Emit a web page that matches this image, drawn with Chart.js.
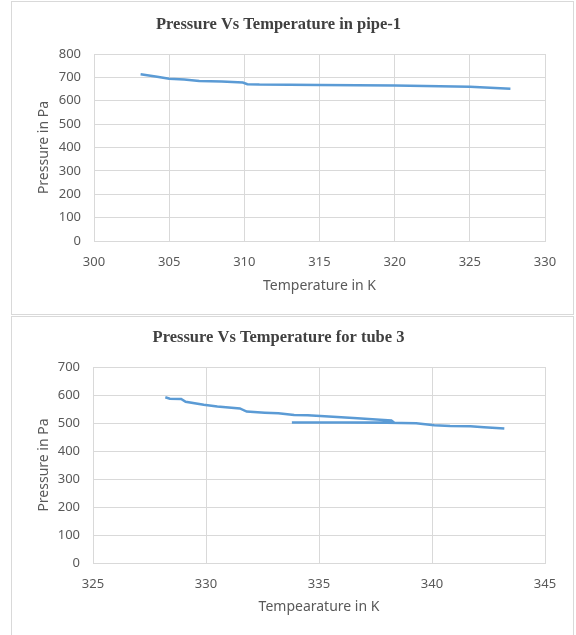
<!DOCTYPE html>
<html>
<head>
<meta charset="utf-8">
<script src="https://cdn.jsdelivr.net/npm/chart.js@4/dist/chart.umd.min.js"></script>
<style>
  html, body { margin: 0; padding: 0; background: #ffffff; }
  body { width: 576px; height: 635px; position: relative; overflow: hidden; }
  .box { position: absolute; left: 11px; width: 563px; border: 1px solid #d9d9d9; box-sizing: border-box; background: #fff; }
  #b1 { top: 1px; height: 314px; }
  #b2 { top: 316px; height: 330px; }
  canvas { display: block; }
</style>
</head>
<body>
<div class="box" id="b1"><canvas id="c1" width="561" height="312"></canvas></div>
<div class="box" id="b2"><canvas id="c2" width="561" height="318"></canvas></div>
<script>
// Chart 1: Pressure Vs Temperature in pipe-1
const pipeTemps = [303.1, 304.2, 305.0, 306.0, 307.0, 308.5, 309.9, 310.2, 311.0, 315.0, 320.0, 325.0, 327.7];
const pipePressures = [713, 703, 694, 691, 685, 682, 678, 671, 669, 667, 665, 660, 651];

// Chart 2: Pressure Vs Temperature for tube 3
const tubeTemps = [328.2, 328.4, 328.9, 329.1, 329.9, 330.5, 331.5, 331.8, 332.6, 333.2, 333.9, 334.5, 335.8, 336.7, 337.7, 338.2, 338.3, 333.8, 336.0, 338.0, 339.3, 340.1, 340.8, 341.7, 342.3, 343.2];
const tubePressures = [592, 587, 586, 576, 565, 559, 552, 541, 537, 535, 529, 528, 521, 517, 512, 509, 503, 502, 502, 501, 499, 492, 489, 488, 485, 480];

const chart1Title = 'Pressure Vs Temperature in pipe-1';
const chart2Title = 'Pressure Vs Temperature for tube 3';
const xTitle1 = 'Temperature in K';
const xTitle2 = 'Tempearature in K';
const yTitle = 'Pressure in Pa';

const tickFont = { family: "'Noto Sans', sans-serif", size: 13 };
const axisTitleFont = { family: "'Noto Sans', sans-serif", size: 14 };
const textColor = '#595959';
const gridColor = '#d9d9d9';

function makeChart(id, xs, ys, title, xTitle, xRange, yRange, cfg) {
  const pts = xs.map((x, i) => ({ x: x, y: ys[i] }));
  return new Chart(document.getElementById(id), {
    type: 'scatter',
    data: { datasets: [{ data: pts, showLine: true, borderColor: '#5b9bd5', borderWidth: 2.5, pointRadius: 0, tension: 0, fill: false }] },
    options: {
      responsive: false,
      animation: false,
      layout: { padding: { left: 0, right: cfg.padRight, top: 0, bottom: 0 } },
      plugins: {
        legend: { display: false },
        tooltip: { enabled: false },
        title: {
          display: true, text: title, color: '#404040',
          font: { family: "'Liberation Serif', 'Times New Roman', serif", size: 16.5, weight: 'bold', lineHeight: 1.2 },
          padding: { top: cfg.titleTop, bottom: cfg.titleBottom }
        }
      },
      scales: {
        x: {
          type: 'linear', min: xRange[0], max: xRange[1],
          ticks: { stepSize: 5, color: textColor, font: tickFont, padding: 13, maxRotation: 0 },
          grid: { color: gridColor, drawTicks: false, lineWidth: 1 },
          border: { color: gridColor },
          title: { display: true, text: xTitle, color: textColor, font: axisTitleFont, padding: { top: 0, bottom: 19.6 } },
          afterFit: s => { s.height = cfg.xHeight; }
        },
        y: {
          type: 'linear', min: yRange[0], max: yRange[1],
          ticks: { stepSize: 100, color: textColor, font: tickFont, padding: 13 },
          grid: { color: gridColor, drawTicks: false, lineWidth: 1 },
          border: { display: false },
          title: { display: true, text: yTitle, color: textColor, font: axisTitleFont, padding: { top: 23.6, bottom: 0 } },
          afterFit: s => { s.width = cfg.yWidth; }
        }
      }
    }
  });
}

makeChart('c1', pipeTemps, pipePressures, chart1Title, xTitle1, [300, 330], [0, 800],
  { padRight: 28, titleTop: 13.1, titleBottom: 19.1, xHeight: 73, yWidth: 82 });
makeChart('c2', tubeTemps, tubePressures, chart2Title, xTitle2, [325, 345], [0, 700],
  { padRight: 28, titleTop: 10.8, titleBottom: 19.4, xHeight: 72, yWidth: 81 });
</script>
</body>
</html>
